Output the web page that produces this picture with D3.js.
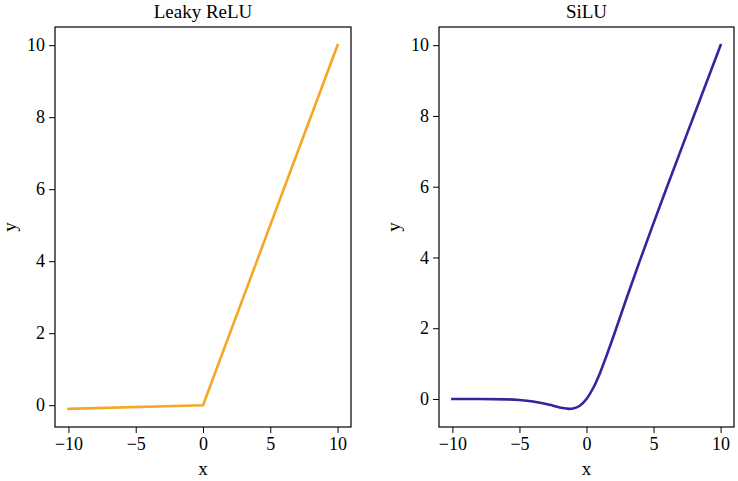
<!DOCTYPE html>
<html lang="en">
<head>
    <meta charset="UTF-8">
    <title>Activation functions</title>
    <script src="https://d3js.org/d3.v7.min.js"></script>
    <style>
        body { margin: 0; background: #fff; }
        svg text { font-family: "Liberation Serif", "DejaVu Serif", serif; fill: #000; }
    </style>
</head>
<body>
    <div id="chart"></div>
    <script>
        // x ticks shared by both panels
        const xTicks = [-10, -5, 0, 5, 10];
        const yTicks = [0, 2, 4, 6, 8, 10];

        // Leaky ReLU
        const leakyX = [-10, 0, 10];
        const leakyY = [-0.1, 0, 10];

        // SiLU
        const siluX = [-10, -8, -6, -5, -4, -3, -2.5, -2, -1.5, -1.25, -1, -0.5, 0, 0.5, 1, 1.5, 2, 3, 4, 5, 6, 8, 10];
        const siluY = [0, 0, -0.01, -0.03, -0.07, -0.14, -0.19, -0.24, -0.27, -0.28, -0.27, -0.19, 0, 0.31, 0.73, 1.23, 1.76, 2.86, 3.93, 4.97, 5.99, 8.0, 10.0];

        const width = 738;
        const height = 481;

        const svg = d3.select("#chart")
            .append("svg")
            .attr("width", width)
            .attr("height", height);

        function drawPanel(left, right, title, xs, ys, color, yDomain, curve) {
            const top = 27, bottom = 427;

            const xScale = d3.scaleLinear().domain([-11, 11]).range([left, right]);
            const yScale = d3.scaleLinear().domain(yDomain).range([bottom, top]);

            const g = svg.append("g");

            // x axis
            const xAxis = g.append("g")
                .attr("transform", `translate(0,${bottom})`)
                .call(d3.axisBottom(xScale).tickValues(xTicks)
                    .tickFormat(d => d < 0 ? "\u2212" + Math.abs(d) : d)
                    .tickSize(6).tickSizeOuter(0).tickPadding(4));
            xAxis.select(".domain").remove();
            xAxis.selectAll("text").style("font-size", "18px");
            xAxis.selectAll("line").attr("stroke", "#000").attr("stroke-width", 1);

            // y axis
            const yAxis = g.append("g")
                .attr("transform", `translate(${left},0)`)
                .call(d3.axisLeft(yScale).tickValues(yTicks)
                    .tickSize(6).tickSizeOuter(0).tickPadding(4));
            yAxis.select(".domain").remove();
            yAxis.selectAll("text").style("font-size", "18px");
            yAxis.selectAll("line").attr("stroke", "#000").attr("stroke-width", 1);

            // data line
            const pts = xs.map((x, i) => ({ x: x, y: ys[i] }));
            const line = d3.line()
                .x(d => xScale(d.x))
                .y(d => yScale(d.y))
                .curve(curve);

            g.append("path")
                .datum(pts)
                .attr("fill", "none")
                .attr("stroke", color)
                .attr("stroke-width", 2.6)
                .attr("stroke-linejoin", "round")
                .attr("stroke-linecap", "square")
                .attr("d", line);

            // frame
            g.append("rect")
                .attr("x", left)
                .attr("y", top)
                .attr("width", right - left)
                .attr("height", bottom - top)
                .attr("fill", "none")
                .attr("stroke", "#000")
                .attr("stroke-width", 1.2);

            // title
            g.append("text")
                .attr("x", (left + right) / 2)
                .attr("y", 18)
                .attr("text-anchor", "middle")
                .style("font-size", "19px")
                .text(title);

            // axis labels
            g.append("text")
                .attr("x", (left + right) / 2)
                .attr("y", 475)
                .attr("text-anchor", "middle")
                .style("font-size", "19px")
                .text("x");

            g.append("text")
                .attr("transform", `translate(${left - 39},${(top + bottom) / 2}) rotate(-90)`)
                .attr("text-anchor", "middle")
                .style("font-size", "19px")
                .text("y");
        }

        drawPanel(55, 351, "Leaky ReLU", leakyX, leakyY, "#f5a623", [-0.605, 10.505], d3.curveLinear);
        drawPanel(439, 734, "SiLU", siluX, siluY, "#3d20a0", [-0.792, 10.514], d3.curveMonotoneX);
    </script>
</body>
</html>
